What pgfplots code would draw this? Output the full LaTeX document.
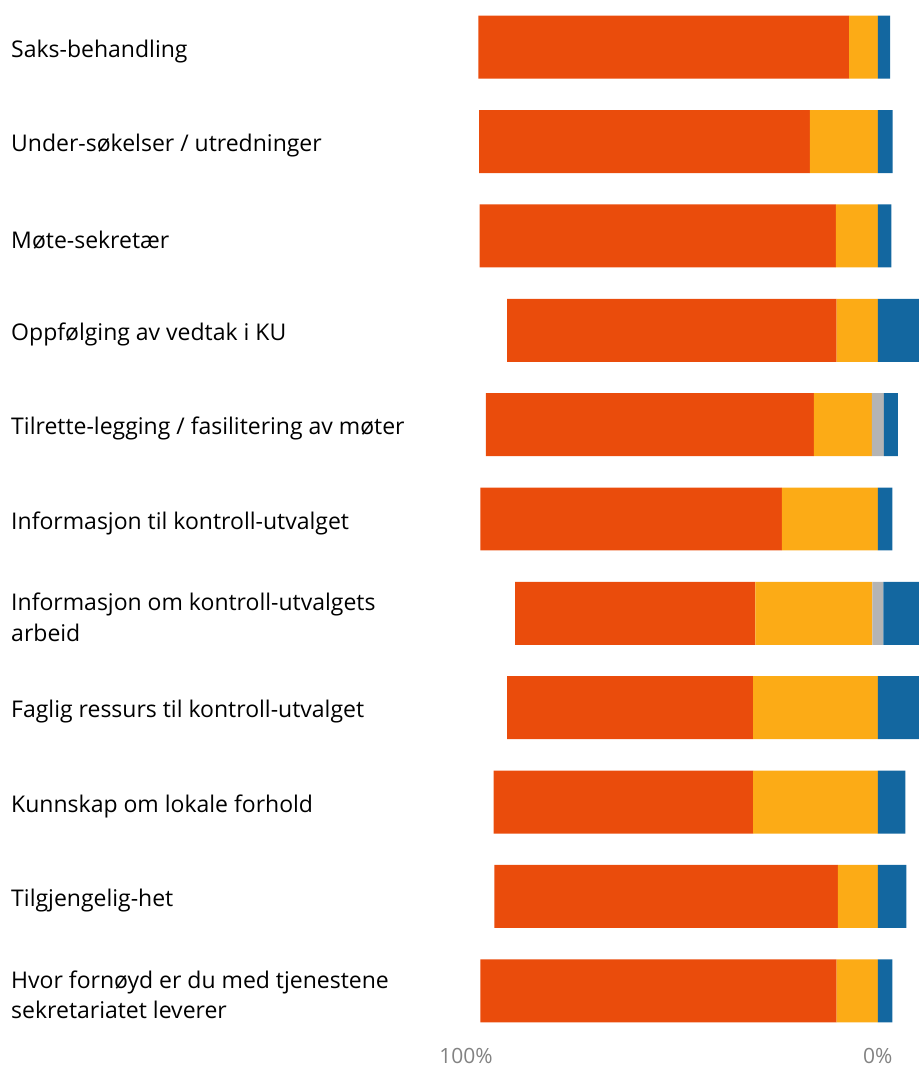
\documentclass[border=0pt]{standalone}
\usepackage{pgfplots}
\pgfplotsset{compat=1.18}
\usepackage{pgfplotstable}
\usepackage{fontspec}
\setmainfont{Open Sans}
\definecolor{cOrange}{RGB}{234,76,12}
\definecolor{cYellow}{RGB}{252,171,22}
\definecolor{cGray}{RGB}{180,180,180}
\definecolor{cBlue}{RGB}{19,103,160}
\definecolor{cTick}{RGB}{130,130,130}

% off = -(blue + gray/2): invisible offset so that the neutral share is centred on 0%
\pgfplotstableread{
row off   blue gray yellow orange
1   -3.0  3.0  0    7.0   90.0
2   -3.6  3.6  0    16.5  80.3
3   -3.3  3.3  0    10.2  86.5
4   -10.0 10.0 0    10.0  80.0
5   -4.85 3.4  2.9  14.1  79.6
6   -3.5  3.5  0    23.3  73.2
7   -11.95 10.6 2.7 28.4  58.3
8   -10.0 10.0 0    30.3  59.7
9   -6.7  6.7  0    30.3  63.0
10  -6.9  6.9  0    9.7   83.4
11  -3.5  3.5  0    10.0  86.5
}\data

\begin{document}
\begin{tikzpicture}
\begin{axis}[
  scale only axis, width=459.5pt, height=534pt,
  xbar stacked, stack negative=on previous, bar width=31.5pt,
  x dir=reverse, xmin=-9.95, xmax=213.1,
  y dir=reverse, ymin=0.502, ymax=11.816,
  ytick={1,...,11},
  yticklabels={
    {Saks-behandling},
    {Under-søkelser / utredninger},
    {Møte-sekretær},
    {Oppfølging av vedtak i KU},
    {Tilrette-legging / fasilitering av møter},
    {Informasjon til kontroll-utvalget},
    {Informasjon om kontroll-utvalgets\\arbeid},
    {Faglig ressurs til kontroll-utvalget},
    {Kunnskap om lokale forhold},
    {Tilgjengelig-het},
    {Hvor fornøyd er du med tjenestene\\sekretariatet leverer}},
  yticklabel pos=left,
  yticklabel style={anchor=west, align=left, xshift=2pt, yshift=-2pt,
    font=\fontsize{11.5}{15.5}\selectfont, text=black},
  xtick={0,100}, xticklabels={0\%,100\%},
  xticklabel style={anchor=south, text=cTick, font=\fontsize{10.5}{12}\selectfont, inner sep=2pt},
  axis line style={draw=none}, major tick length=0pt,
  every axis plot/.append style={draw=none},
]
\addplot[fill=none, draw=none] table[x=off, y=row] {\data};
\addplot[fill=cBlue] table[x=blue, y=row] {\data};
\addplot[fill=cGray] table[x=gray, y=row] {\data};
\addplot[fill=cYellow] table[x=yellow, y=row] {\data};
\addplot[fill=cOrange] table[x=orange, y=row] {\data};
\end{axis}
\end{tikzpicture}
\end{document}
